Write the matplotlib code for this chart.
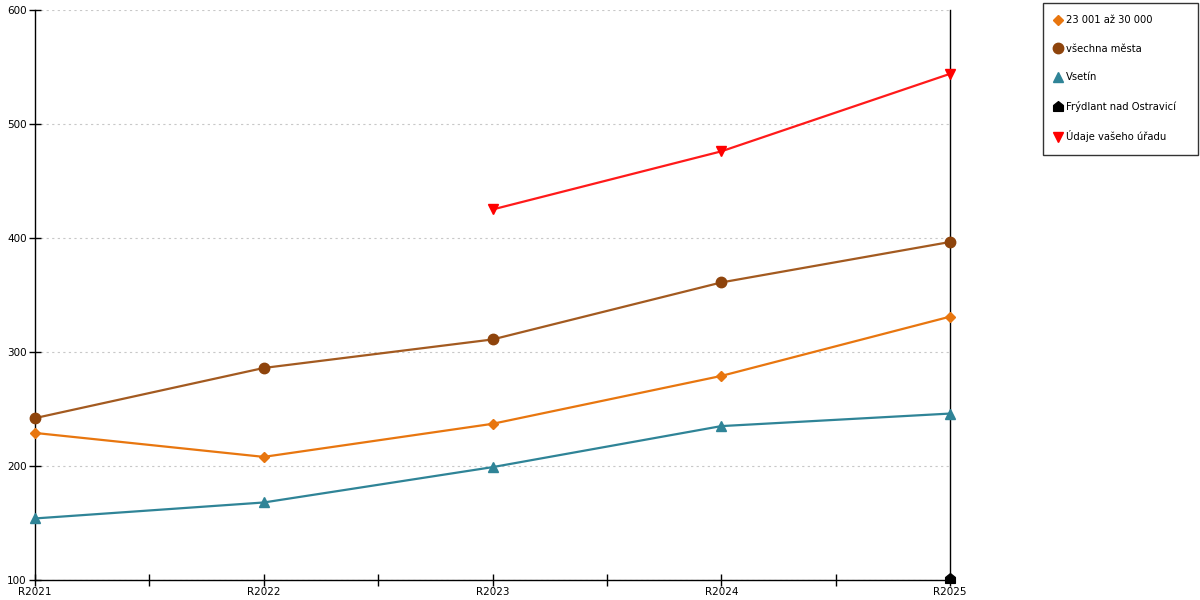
import numpy as np
import matplotlib
matplotlib.use('Agg')
import matplotlib.pyplot as plt
from matplotlib.lines import Line2D
from matplotlib.path import Path

years = ["R2021", "R2022", "R2023", "R2024", "R2025"]

skupina = [229, 208, 237, 279, 331]          # 23 001 až 30 000
vsechna = [242, 286, 311, 361, 396.5]        # všechna města
vsetin = [154, 168, 199, 235, 246]           # Vsetín
frydlant = [None, None, None, None, 102]     # Frýdlant nad Ostravicí
urad = [None, None, 425, 476, 544]           # Údaje vašeho úřadu

labels = ["23 001 až 30 000", "všechna města", "Vsetín",
          "Frýdlant nad Ostravicí", "Údaje vašeho úřadu"]

# house shaped marker
house = Path([(-1, -1), (1, -1), (1, 0.2), (0, 1), (-1, 0.2), (-1, -1)],
             [Path.MOVETO, Path.LINETO, Path.LINETO, Path.LINETO,
              Path.LINETO, Path.CLOSEPOLY])

plt.rcParams['font.family'] = ['DejaVu Sans']

fig = plt.figure(figsize=(12, 6), dpi=100)
ax = fig.add_axes([35 / 1200, 20 / 600, 915 / 1200, 570 / 600])

x = np.arange(len(years))


def series(vals):
    return np.array([np.nan if v is None else v for v in vals], dtype=float)


styles = [
    (skupina, '#E8760F', '#E8760F', 'D', 5.5),
    (vsechna, '#A35A20', '#8E440C', 'o', 7.5),
    (vsetin, '#2F8497', '#2F8497', '^', 7.5),
    (frydlant, 'black', 'black', house, 7),
    (urad, '#FF1A1A', '#FF0000', 'v', 7.5),
]

handles = []
for (vals, lc, mc, mk, ms), lab in zip(styles, labels):
    ax.plot(x, series(vals), color=lc, lw=1.6, marker=mk, markersize=ms,
            markerfacecolor=mc, markeredgecolor=mc, clip_on=False, zorder=3)
    handles.append(Line2D([], [], linestyle='none', marker=mk, markersize=ms,
                          markerfacecolor=mc, markeredgecolor=mc, label=lab))

ax.set_xlim(0, len(years) - 1)
ax.set_ylim(100, 600)
ax.set_xticks(x)
ax.set_xticklabels(years)
ax.set_xticks(x[:-1] + 0.5, minor=True)
ax.set_yticks([100, 200, 300, 400, 500, 600])
ax.tick_params(axis='both', which='both', direction='inout', length=8,
               width=1, labelsize=7.5, pad=1, colors='black')
ax.tick_params(axis='y', pad=2)
ax.yaxis.grid(True, linestyle=(0, (2, 3)), color='#C8C8C8', lw=0.8)
ax.set_axisbelow(True)

ax.spines['top'].set_visible(False)
for s in ['left', 'bottom', 'right']:
    ax.spines[s].set_color('black')
    ax.spines[s].set_linewidth(1)

leg = fig.legend(handles=handles, loc='upper left',
                 bbox_to_anchor=(1043 / 1200, 445 / 600, 155 / 1200, 152 / 600),
                 mode='expand', fontsize=7.2, frameon=True, fancybox=False,
                 edgecolor='black', handlelength=0.5, handletextpad=0.5,
                 labelspacing=1.84, borderpad=1.25, borderaxespad=0)
leg.get_frame().set_linewidth(1)

fig.savefig('out.png', dpi=100)
